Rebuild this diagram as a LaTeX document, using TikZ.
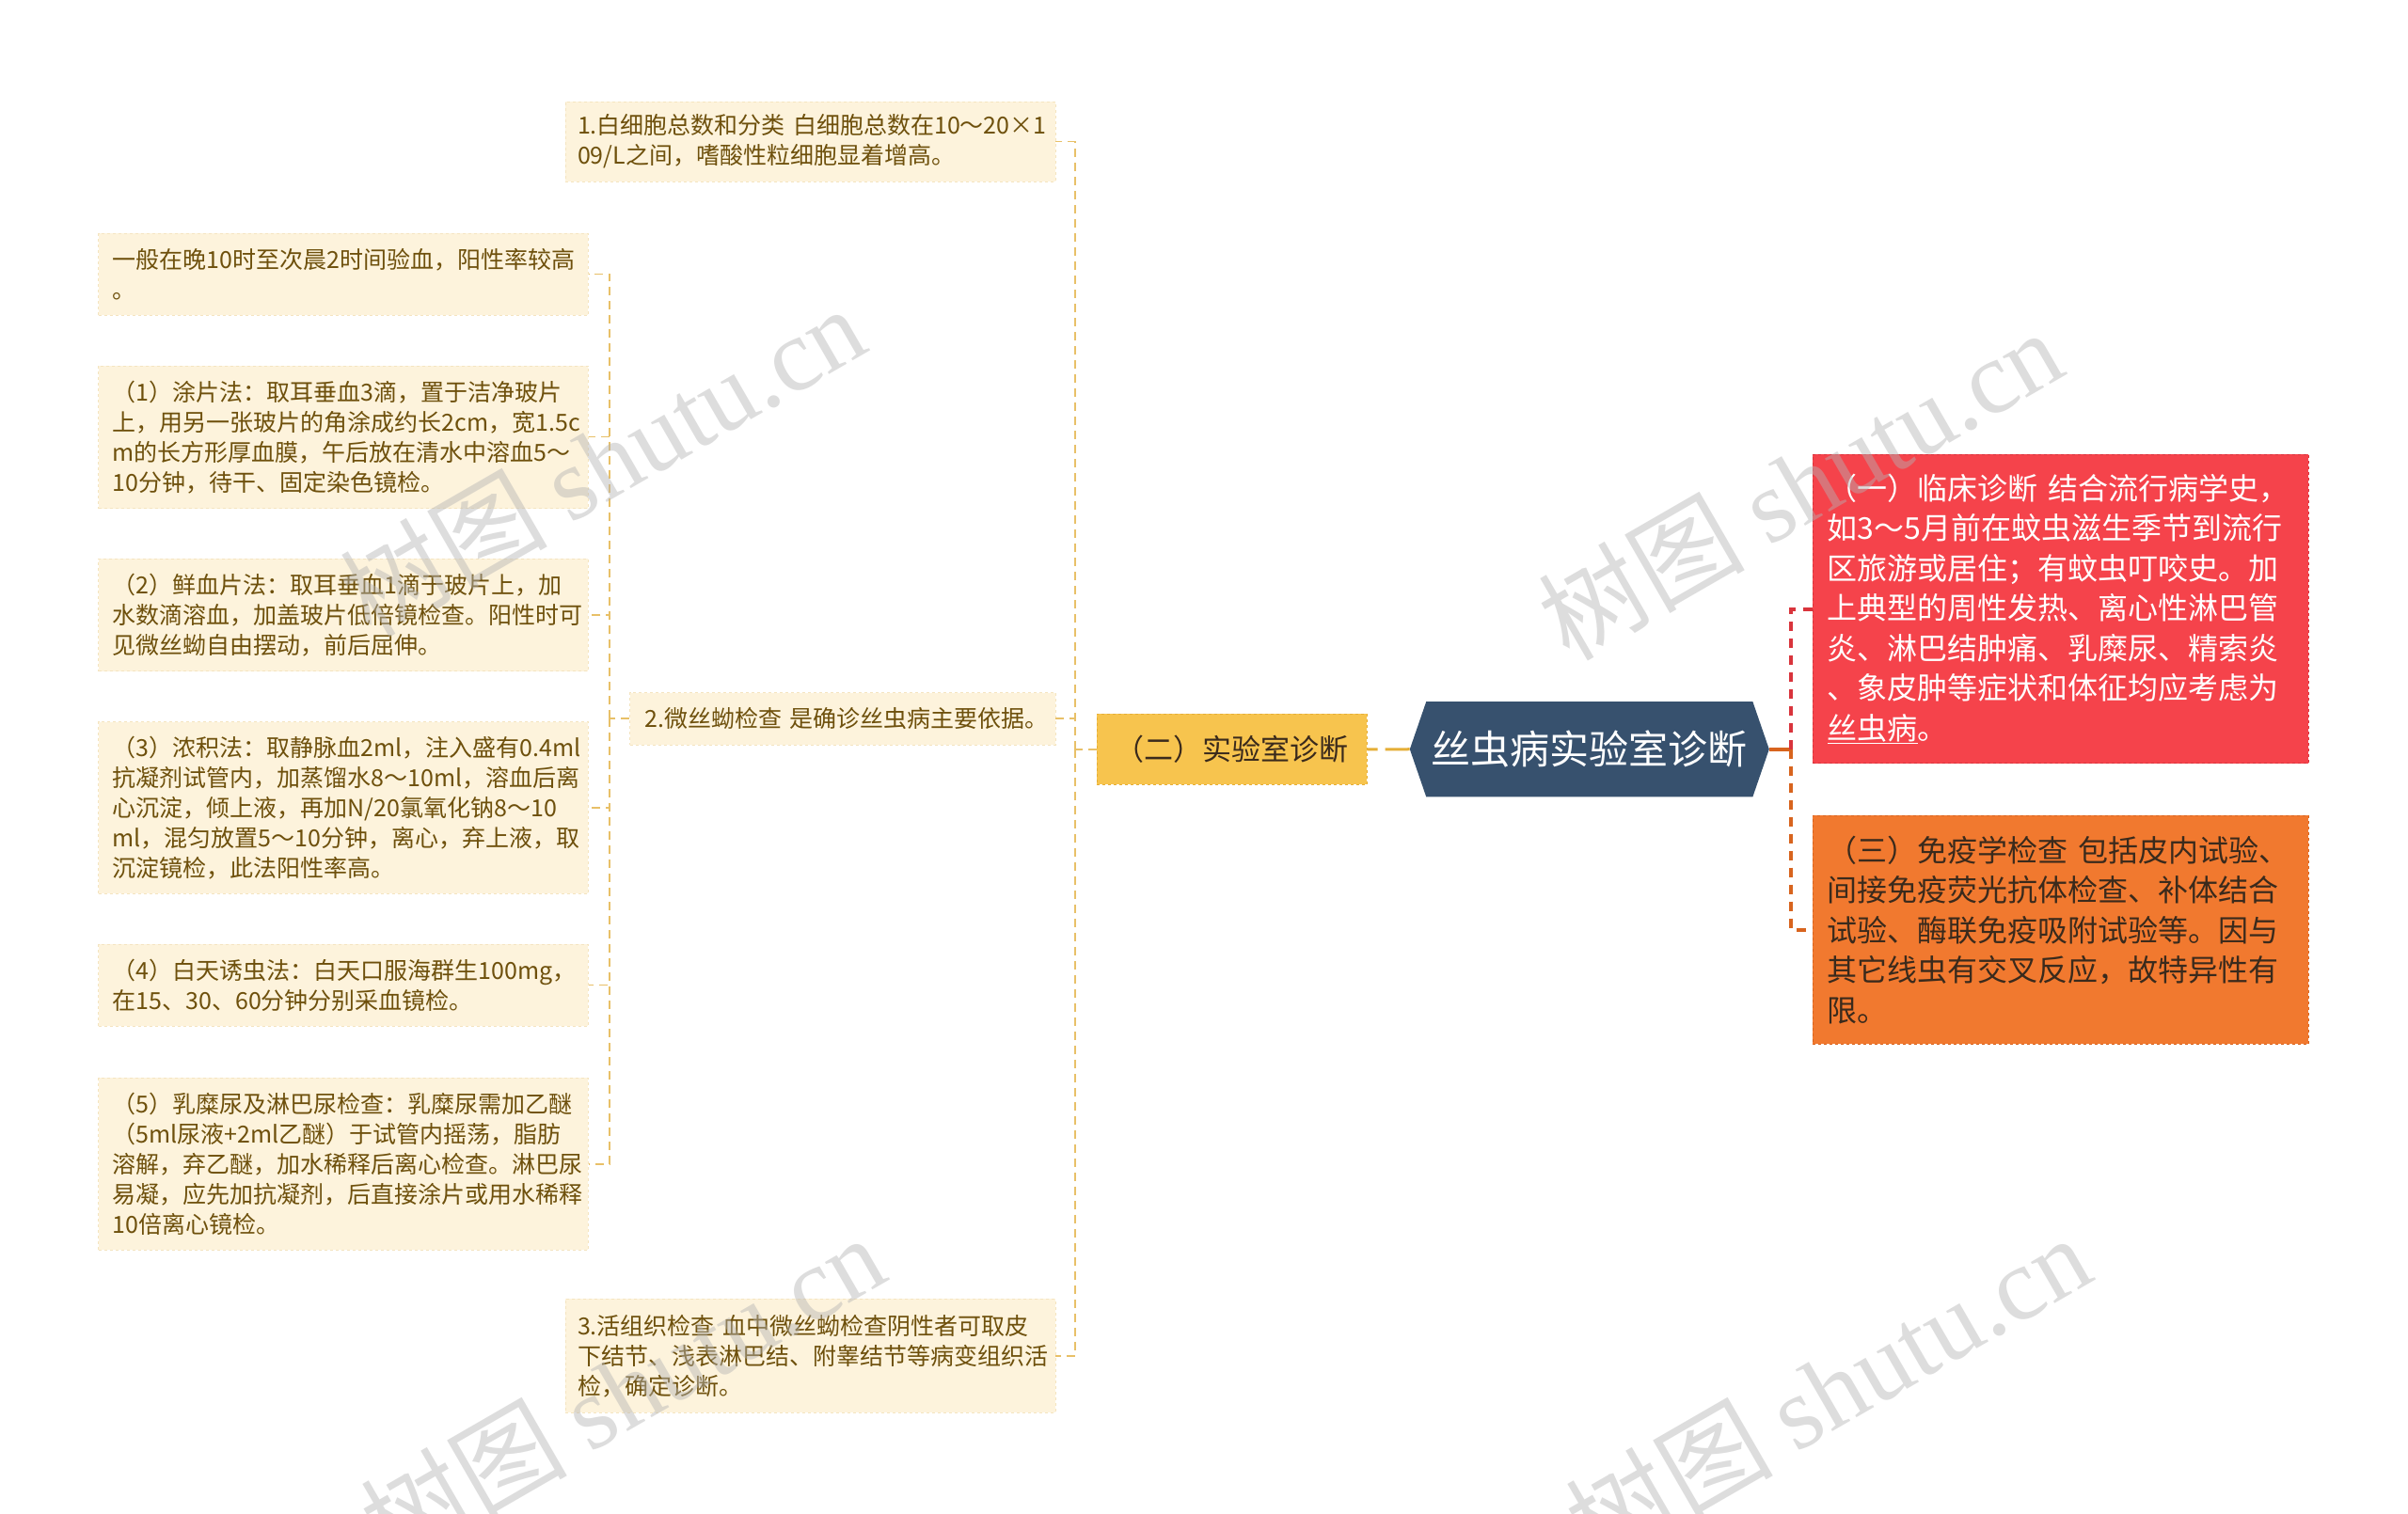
\documentclass[tikz,border=0pt]{standalone}
\usepackage{fontspec}
\setmainfont{Noto Sans CJK SC}
\newfontfamily\wmserif{Liberation Serif}
\usetikzlibrary{shapes.symbols,calc}
\definecolor{cream}{HTML}{FDF3DC}
\definecolor{creamline}{HTML}{F4E4C0}
\definecolor{browntext}{HTML}{6E500C}
\definecolor{yelconn}{HTML}{E8C068}
\definecolor{yelbox}{HTML}{F7C44E}
\definecolor{yelboxline}{HTML}{E5AE36}
\definecolor{navy}{HTML}{37516E}
\definecolor{redbox}{HTML}{F5434B}
\definecolor{redline}{HTML}{D9343C}
\definecolor{orbox}{HTML}{F1792F}
\definecolor{orline}{HTML}{D8641E}
\definecolor{darktext}{HTML}{3A2A1C}
\definecolor{wmgray}{HTML}{B4B4B4}
\begin{document}
\begin{tikzpicture}[x=1.6327pt,y=-1.6327pt,
  leaf/.style={anchor=north west, rectangle, fill=cream, draw=creamline, dashed, inner ysep=0pt, inner xsep=15pt, text width=490.8pt, minimum height=#1, align=left, text=browntext, font=\fontsize{25}{32}\selectfont},
  subbox/.style={anchor=north west, rectangle, fill=cream, draw=creamline, dashed, inner ysep=0pt, align=left, text=browntext, font=\fontsize{25}{32}\selectfont},
  bigbox/.style={anchor=north west, rectangle, dashed, inner ysep=0pt, inner xsep=16pt, text width=495.4pt, align=left, font=\fontsize{32}{42.5}\selectfont},
  yconn/.style={draw=yelconn, line width=1.6pt, dash pattern=on 9pt off 6pt},
  midconn/.style={draw=yelboxline, line width=3pt, dash pattern=on 26pt off 8pt},
  rconn/.style={draw=redline, line width=4pt, dash pattern=on 10pt off 8pt},
  oconn/.style={draw=orline, line width=4pt, dash pattern=on 10pt off 8pt},
  osolid/.style={draw=orline, line width=4pt},
  wm/.style={rotate=30, text=wmgray, opacity=0.45, font=\fontsize{110}{110}\selectfont}
]
\useasboundingbox (0,0) rectangle (1568,986);
\fill[white] (0,0) rectangle (1568,986);

% level 3 leaves
\node[leaf=86.5pt] (a) at (64,152) {一般在晚10时至次晨2时间验血，阳性率较高\\。};
\node[leaf=151.8pt] (b) at (64,238) {（1）涂片法：取耳垂血3滴，置于洁净玻片\\上，用另一张玻片的角涂成约长2cm，宽1.5c\\m的长方形厚血膜，午后放在清水中溶血5～\\10分钟，待干、固定染色镜检。};
\node[leaf=119.2pt] (c) at (64,364) {（2）鲜血片法：取耳垂血1滴于玻片上，加\\水数滴溶血，加盖玻片低倍镜检查。阳性时可\\见微丝蚴自由摆动，前后屈伸。};
\node[leaf=182.9pt] (d) at (64,470) {（3）浓积法：取静脉血2ml，注入盛有0.4ml\\抗凝剂试管内，加蒸馏水8～10ml，溶血后离\\心沉淀，倾上液，再加N/20氯氧化钠8～10\\ml，混匀放置5～10分钟，离心，弃上液，取\\沉淀镜检，此法阳性率高。};
\node[leaf=86.5pt] (e) at (64,615) {（4）白天诱虫法：白天口服海群生100mg，\\在15、30、60分钟分别采血镜检。};
\node[leaf=182.9pt] (f) at (64,702) {（5）乳糜尿及淋巴尿检查：乳糜尿需加乙醚\\（5ml尿液+2ml乙醚）于试管内摇荡，脂肪\\溶解，弃乙醚，加水稀释后离心检查。淋巴尿\\易凝，应先加抗凝剂，后直接涂片或用水稀释\\10倍离心镜检。};

% level 2
\node[subbox, inner xsep=13pt, text width=494.8pt, minimum height=84.9pt] (n1) at (368,66) {1.白细胞总数和分类~白细胞总数在10～20×1\\09/L之间，嗜酸性粒细胞显着增高。};
\node[subbox, inner xsep=16pt, text width=420.3pt, minimum height=55.5pt] (n2) at (410,451) {2.微丝蚴检查~是确诊丝虫病主要依据。};
\node[subbox, inner xsep=13pt, text width=494.8pt, minimum height=120.8pt] (n3) at (368,846) {3.活组织检查~血中微丝蚴检查阴性者可取皮\\下结节、浅表淋巴结、附睾结节等病变组织活\\检，确定诊断。};

% level 1
\node[anchor=north west, rectangle, fill=yelbox, draw=yelboxline, dashed, minimum width=287.4pt, minimum height=75.1pt, inner sep=0pt, text=darktext, font=\fontsize{31}{36}\selectfont] (er) at (714,465) {（二）实验室诊断};

% root
\node[shape=signal, signal to=west and east, signal pointer angle=142, fill=navy, text=white, minimum width=382pt, minimum height=101.2pt, inner sep=0pt, font=\fontsize{42}{50}\selectfont] (hex) at (1035,488) {丝虫病实验室诊断};

% right boxes
\node[bigbox, fill=redbox, draw=redline, text=white, minimum height=328.2pt] (red) at (1180,296) {（一）临床诊断~结合流行病学史，\\如3～5月前在蚊虫滋生季节到流行\\区旅游或居住；有蚊虫叮咬史。加\\上典型的周性发热、离心性淋巴管\\炎、淋巴结肿痛、乳糜尿、精索炎\\、象皮肿等症状和体征均应考虑为\\\underline{丝虫病}。};
\node[bigbox, fill=orbox, draw=orline, text=darktext, minimum height=243.3pt] (orange) at (1180,531) {（三）免疫学检查~包括皮内试验、\\间接免疫荧光抗体检查、补体结合\\试验、酶联免疫吸附试验等。因与\\其它线虫有交叉反应，故特异性有\\限。};

% connectors
\draw[yconn] (n2.west) -- ++(-13,0) coordinate (j3);
\foreach \n in {a,b,c,d,e,f} \draw[yconn] (j3) |- (\n.east);
\draw[yconn] (er.west) -- ++(-14,0) coordinate (j2);
\foreach \n in {n1,n2,n3} \draw[yconn] (j2) |- (\n.east);
\draw[midconn] (hex.west) -- (er.east);
\draw[osolid] (hex.east) -- ++(14,0) coordinate (j1);
\draw[rconn] (j1) |- (red.west);
\draw[oconn] (j1) |- (orange.west);

% watermarks
\node[wm] (wm1) at (392,300) {树图 {\wmserif shutu.cn}};
\node[wm] (wm2) at (1172,315) {树图 {\wmserif shutu.cn}};
\node[wm] (wm3) at (405,905) {树图 {\wmserif shutu.cn}};
\node[wm] (wm4) at (1190,905) {树图 {\wmserif shutu.cn}};
\end{tikzpicture}
\end{document}
